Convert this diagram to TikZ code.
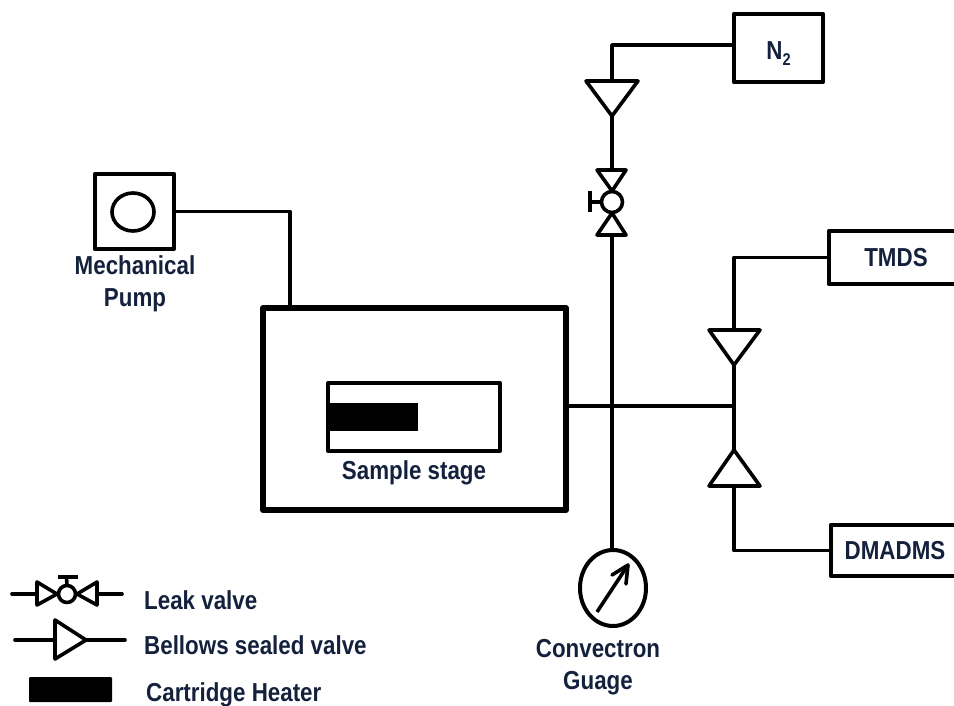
\documentclass[tikz,border=0pt]{standalone}
\usepackage{fontspec}
\setmainfont{Liberation Sans}[FakeStretch=0.86]
\usetikzlibrary{arrows.meta,shapes.geometric}
\definecolor{labelnavy}{HTML}{14213D}
\tikzset{
  pipe/.style={line width=3.6pt,line join=round,line cap=round},
  box/.style={draw,line width=4.2pt,line join=round,rectangle,inner sep=0pt,outer sep=0pt,text=labelnavy,font=\bfseries\fontsize{26}{30}\selectfont},
  label/.style={text=labelnavy,font=\bfseries\fontsize{26}{32}\selectfont,inner sep=0pt,align=center},
  legend/.style={label,anchor=west},
  valve/.style={line width=3.6pt,line join=round},
  solid block/.style={fill=black,draw=none,rectangle,inner sep=0pt,outer sep=0pt}
}
\begin{document}
\begin{tikzpicture}[x=1pt,y=-1pt]
\useasboundingbox (0,0) rectangle (954,706);
% boxes
\node[box,minimum width=89pt,minimum height=68pt] (n2) at (778.5,48) {\raisebox{-12pt}[0pt][0pt]{N\raisebox{-0.22em}{\fontsize{17}{17}\selectfont 2}}};
\node[box,minimum width=134pt,minimum height=53pt] (tmds) at (896,257.5) {\raisebox{-1pt}{TMDS}};
\node[box,minimum width=128pt,minimum height=51pt] (dmadms) at (895,550.5) {DMADMS};
\node[box,minimum width=79pt,minimum height=75pt] (pump) at (134.5,211.5) {};
\node[draw,line width=3.6pt,ellipse,inner sep=0pt,outer sep=0pt,minimum width=42pt,minimum height=38pt] (pumpcirc) at (133,212) {};
\node[box,line width=6pt,minimum width=303pt,minimum height=202pt] (chamber) at (414.5,409) {};
\node[box,line width=4pt,minimum width=172pt,minimum height=68pt] (stage) at (414,417) {};
\node[solid block,minimum width=90pt,minimum height=28pt] (heater) at (372.5,417) {};
\node[draw,line width=4pt,ellipse,inner sep=0pt,outer sep=0pt,minimum width=66pt,minimum height=76pt] (gauge) at (613,588) {};
% labels
\node[label] (pumplabel) at (135,284) {Mechanical\\Pump};
\node[label] (stagelabel) at (414,473) {Sample stage};
\node[label] (gaugelabel) at (598,667) {Convectron\\Guage};
\node[legend] (leaklabel) at (144,600) {Leak valve};
\node[legend] (bellowslabel) at (144,645) {Bellows sealed valve};
\node[legend] (cartlabel) at (146,695) {Cartridge Heater};
% coordinates
\coordinate (v1top) at (612,81);
\coordinate (v1tip) at (612,116);
\coordinate (lvtop) at (612,170);
\coordinate (lvbot) at (612,235);
\coordinate (v2top) at (734,330);
\coordinate (v2tip) at (734,365);
\coordinate (v3tip) at (734,450);
\coordinate (v3bot) at (734,486);
\coordinate (tee) at (734,406);
% connectors
\draw[pipe] (n2.west |- 0,45) -| (v1top);
\draw[pipe] (v1tip) -- (lvtop);
\draw[pipe] (lvbot) -- (lvbot |- gauge.north);
\draw[pipe] (pump.east) -| (chamber.north -| 290,0);
\draw[pipe] (chamber.east |- tee) -- (tee);
\draw[pipe] (tmds.west) -| (v2top);
\draw[pipe] (v2tip) -- (v3tip);
\draw[pipe] (v3bot) |- (dmadms.west);
% valves
\draw[valve] (586,81) -- (638,81) -- (v1tip) -- cycle;
\draw[valve] (709,330) -- (760,330) -- (v2tip) -- cycle;
\draw[valve] (709,486) -- (760,486) -- (v3tip) -- cycle;
% leak valve
\draw[valve] (597,170) -- (626,170) -- (612,191) -- cycle;
\draw[valve] (597,235) -- (626,235) -- (612,213) -- cycle;
\node[draw,fill=white,circle,line width=3.6pt,inner sep=0pt,outer sep=0pt,minimum size=21pt] (lvc) at (612,202) {};
\draw[valve] (lvc.west) -- (590,202);
\draw[line width=4pt] (590,191) -- (590,212);
% gauge arrow
\coordinate (gtail) at (597,612);
\coordinate (ghead) at (628,565);
\draw[pipe,line cap=butt] (gtail) -- (ghead);
\draw[pipe] (612,575) -- (628,565) -- (626,584);
% legend symbols
\draw[pipe] (12,594) -- (37,594);
\draw[valve] (37,582) -- (37,605) -- (57,594) -- cycle;
\node[draw,fill=white,circle,line width=3.6pt,inner sep=0pt,outer sep=0pt,minimum size=17pt] (legc) at (67,594) {};
\draw[valve] (97,582) -- (97,605) -- (77,594) -- cycle;
\draw[pipe] (97,594) -- (122,594);
\draw[valve] (legc.north) -- (66.5,577);
\draw[line width=4pt] (58,577) -- (78,577);
\draw[pipe] (15,640) -- (55,640);
\draw[valve] (55,620) -- (55,659) -- (86,640) -- cycle;
\draw[pipe] (86,640) -- (125,640);
\node[solid block,minimum width=83pt,minimum height=25pt,rounded corners=1pt] (legheater) at (70.5,689.5) {};
\end{tikzpicture}
\end{document}
